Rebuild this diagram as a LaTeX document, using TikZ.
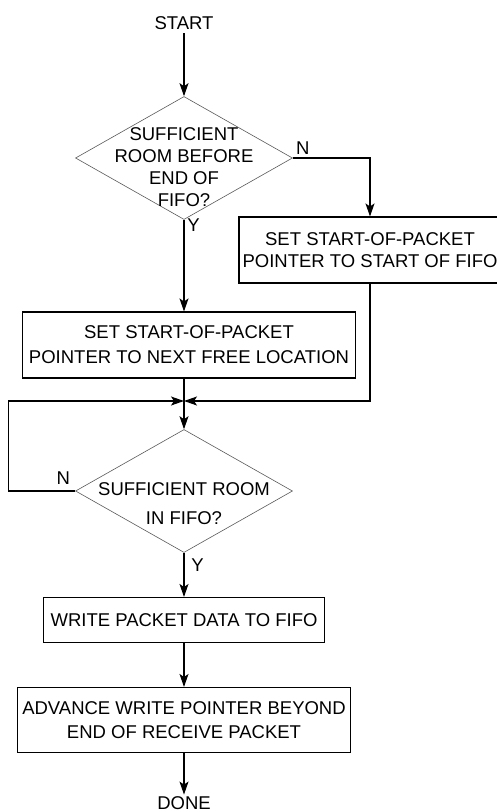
\documentclass[tikz,border=0pt]{standalone}
\usepackage{fontspec}
\setmainfont{Liberation Sans}
\usepackage{xcolor}
\usepackage{tikz}
\usetikzlibrary{arrows.meta, shapes.geometric}

\begin{document}
\begin{tikzpicture}[x=1pt, y=-1pt, thick, >={Stealth[length=13pt, width=9pt, inset=3pt]},
        font=\fontsize{18.5}{22}\selectfont,
        stepbox/.style={rectangle, draw, line width=1.1pt, inner sep=0pt, align=center},
        decision/.style={diamond, draw=black!65, line width=0.6pt, inner sep=0pt,
            minimum width=217pt, minimum height=123pt},
        flow/.style={->, line width=1.1pt},
        lbl/.style={inner sep=0pt}]
            \useasboundingbox (0,0) rectangle (497,812);

            \node (start) at (184,23) {START};

            \node[decision, below of=start, node distance=135pt] (roomend) {};
            \node[align=center] (roomendtxt) at ([yshift=-9.5pt]roomend.center) {
                SUFFICIENT\\
                ROOM BEFORE\\
                END OF\\
                FIFO?
            };

            \node[stepbox, minimum width=262pt, minimum height=66pt] (ptrstart) at (370,250) {
                SET START-OF-PACKET\\
                POINTER TO START OF FIFO
            };

            \node[stepbox, minimum width=333pt, minimum height=66pt, below of=roomend,
                node distance=187pt, xshift=5pt] (setnext) {
                SET START-OF-PACKET\\[3pt]
                POINTER TO NEXT FREE LOCATION
            };

            \coordinate (merge) at (184,401);

            \node[decision, below of=roomend, node distance=333pt] (roomfifo) {};
            \node[align=center] (roomfifotxt) at ([yshift=-12.5pt]roomfifo.center) {
                SUFFICIENT ROOM\\[7pt]
                IN FIFO?
            };

            \node[stepbox, minimum width=281pt, minimum height=45pt, below of=roomfifo,
                node distance=129pt] (write) {WRITE PACKET DATA TO FIFO};

            \node[stepbox, minimum width=333pt, minimum height=65pt, below of=write,
                node distance=100pt] (advance) {
                ADVANCE WRITE POINTER BEYOND\\[2pt]
                END OF RECEIVE PACKET
            };

            \node[below of=advance, node distance=83pt, inner sep=0pt] (done) {DONE};

            \node[lbl] (roomendN) at ([xshift=10pt, yshift=10pt]roomend.east) {N};
            \node[lbl, anchor=west] (roomendY) at ([xshift=3pt, yshift=-5pt]roomend.south) {Y};
            \node[lbl] (roomfifoN) at ([xshift=-12pt, yshift=13pt]roomfifo.west) {N};
            \node[lbl, anchor=west] (roomfifoY) at ([xshift=7pt, yshift=-12pt]roomfifo.south) {Y};

            \draw[flow] (start) -- (roomend);
            \draw[flow] (roomend.east) -| (ptrstart.north);
            \draw[flow] (roomend.south) -- (roomend.south |- setnext.north);
            \draw[flow] (setnext.south -| roomfifo.north) -- (roomfifo.north);
            \draw[flow] (ptrstart.south) |- (merge);
            \draw[flow] (roomfifo.west) -- ++(-67,0) |- (merge);
            \draw[flow] (roomfifo) -- (write);
            \draw[flow] (write) -- (advance);
            \draw[flow, shorten >=1.5pt] (advance) -- (done);
        \end{tikzpicture}
\end{document}
